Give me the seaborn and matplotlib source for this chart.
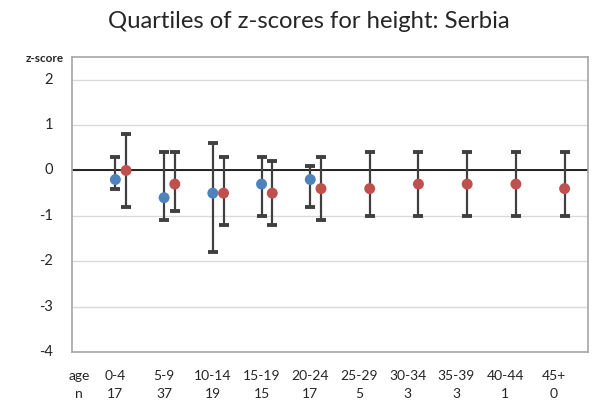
import numpy as np
import pandas as pd
import matplotlib
matplotlib.use('Agg')
import matplotlib.pyplot as plt
import matplotlib.transforms as mtransforms
import seaborn as sns

# age groups and sample sizes
ages = ['0-4', '5-9', '10-14', '15-19', '20-24', '25-29', '30-34', '35-39', '40-44', '45+']
n_counts = ['17', '37', '19', '15', '17', '5', '3', '3', '1', '0']
yticks = [-4, -3, -2, -1, 0, 1, 2]

# blue series (first 5 groups only): median with lower/upper quartile
blue_med = [-0.2, -0.6, -0.5, -0.3, -0.2]
blue_q1 = [-0.4, -1.1, -1.8, -1.0, -0.8]
blue_q3 = [0.3, 0.4, 0.6, 0.3, 0.1]

# red series: median with lower/upper quartile
red_med = [0.0, -0.3, -0.5, -0.5, -0.4, -0.4, -0.3, -0.3, -0.3, -0.4]
red_q1 = [-0.8, -0.9, -1.2, -1.2, -1.1, -1.0, -1.0, -1.0, -1.0, -1.0]
red_q3 = [0.8, 0.4, 0.3, 0.2, 0.3, 0.4, 0.4, 0.4, 0.4, 0.4]

BLUE = '#4F81BD'
RED = '#C0504D'
offset = 0.22

sns.set_style('white')
plt.rcParams['font.family'] = ['Lato', 'DejaVu Sans']

fig = plt.figure(figsize=(5.98, 4.05), dpi=100)
ax = fig.add_axes([72 / 598, 1 - 352 / 405, (588 - 72) / 598, (352 - 57) / 405])

xb = np.arange(len(blue_med))
xr = np.arange(len(red_med)) + offset

df = pd.concat([
    pd.DataFrame({'x': xb, 'med': blue_med, 'grp': 'a'}),
    pd.DataFrame({'x': xr, 'med': red_med, 'grp': 'b'}),
])

# whiskers (quartile range)
for x, m, lo, hi in [(xb, blue_med, blue_q1, blue_q3), (xr, red_med, red_q1, red_q3)]:
    m = np.array(m)
    eb = ax.errorbar(x, m, yerr=[m - np.array(lo), np.array(hi) - m], fmt='none',
                     ecolor='#404040', elinewidth=1.6, capsize=3.8, capthick=2.8, zorder=2)
    for cap in eb[1]:
        cap.set_color('black')

sns.scatterplot(data=df, x='x', y='med', hue='grp', palette=[BLUE, RED],
                s=62, edgecolor='none', legend=False, zorder=3, ax=ax)

ax.set_xlim(-0.89, 9.70)
ax.set_ylim(-4, 2.5)
ax.set_yticks(yticks)
ax.set_yticklabels([])
ax.set_xticks([])
ax.set_xlabel('')
ax.set_ylabel('')
ax.yaxis.grid(True, color='#D9D9D9', linewidth=1)
ax.axhline(0, color='black', linewidth=1.2, zorder=1)
ax.tick_params(axis='y', length=0)
for s in ax.spines.values():
    s.set_color('#A6A6A6')
    s.set_linewidth(1.2)

# y tick labels, set further out from the axis
ytrans = mtransforms.blended_transform_factory(ax.transAxes, ax.transData)
for v in yticks:
    ax.text(-19 / 516, v, str(v), transform=ytrans, ha='right', va='center',
            fontsize=10.5, clip_on=False)

fig.text(309 / 598, 1 - 22 / 405, 'Quartiles of z-scores for height: Serbia',
         ha='center', va='center', fontsize=17.2)
fig.text(45 / 598, 1 - 58 / 405, 'z-score', ha='center', va='center',
         fontsize=8.5, fontweight='bold')

# age / n table below the axis
trans = ax.get_xaxis_transform()
ax.text(-0.74, 1 - (376 - 57) / 295, 'age', transform=trans, ha='center', va='center', fontsize=10, clip_on=False)
ax.text(-0.74, 1 - (394 - 57) / 295, 'n', transform=trans, ha='center', va='center', fontsize=10, clip_on=False)
for i, (a, c) in enumerate(zip(ages, n_counts)):
    ax.text(i, 1 - (376 - 57) / 295, a, transform=trans, ha='center', va='center', fontsize=10, clip_on=False)
    ax.text(i, 1 - (394 - 57) / 295, c, transform=trans, ha='center', va='center', fontsize=10, clip_on=False)

fig.savefig('out.png', dpi=100)
